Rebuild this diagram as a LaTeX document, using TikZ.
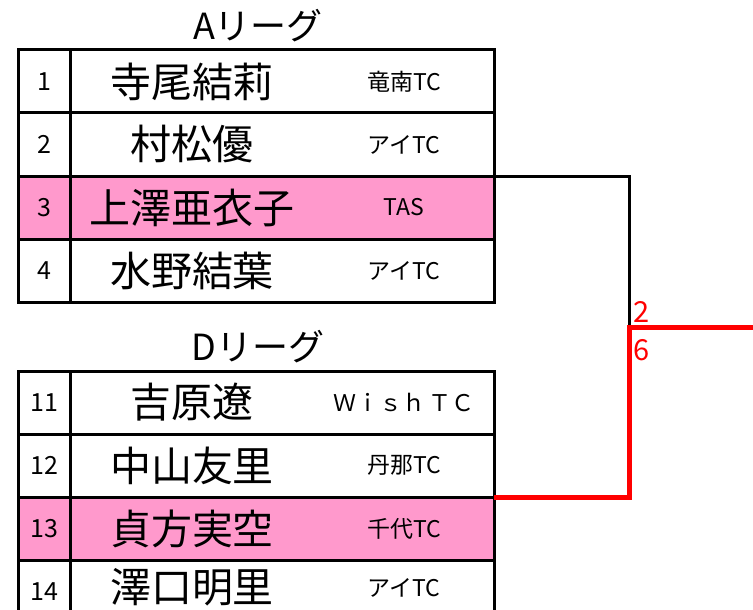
\documentclass[tikz,border=0pt]{standalone}
\usepackage{fontspec}
\setmainfont{Noto Sans CJK JP}
\usetikzlibrary{positioning}
\definecolor{winpink}{HTML}{FF99CC}

\begin{document}
\begin{tikzpicture}[x=1pt, y=-1pt,
        numcell/.style={draw, line width=3pt, outer sep=0pt, minimum width=52pt, minimum height=63pt, inner sep=0pt, anchor=north west, font=\fontsize{25}{25}\selectfont},
        namecell/.style={draw, line width=3pt, outer sep=0pt, minimum width=424pt, minimum height=63pt, inner sep=0pt, anchor=west},
        player/.style={font=\fontsize{41}{41}\selectfont, inner sep=0pt},
        club/.style={font=\fontsize{23}{23}\selectfont, inner sep=0pt},
        league/.style={font=\fontsize{36}{36}\selectfont, inner sep=0pt},
        score/.style={text=red, font=\fontsize{29}{29}\selectfont, inner sep=0pt}
      ]
      \useasboundingbox (0,0) rectangle (753,610);
      \clip (0,0) rectangle (753,610);

      % A league
      \node[league] (titleA) at (258,26) {Aリーグ};
      \node[numcell] (n1) at (18,50) {1};
      \node[namecell, right=0pt of n1] (r1) {};
      \node[numcell, below=0pt of n1] (n2) {2};
      \node[namecell, right=0pt of n2] (r2) {};
      \node[numcell, below=0pt of n2, fill=winpink] (n3) {3};
      \node[namecell, right=0pt of n3, fill=winpink] (r3) {};
      \node[numcell, below=0pt of n3] (n4) {4};
      \node[namecell, right=0pt of n4] (r4) {};

      \node[player] at ([xshift=122pt]r1.west) {寺尾結莉};
      \node[player] at ([xshift=122pt]r2.west) {村松優};
      \node[player] at ([xshift=122pt]r3.west) {上澤亜衣子};
      \node[player] at ([xshift=122pt]r4.west) {水野結葉};
      \node[club] at ([xshift=-90pt]r1.east) {竜南TC};
      \node[club] at ([xshift=-90pt]r2.east) {アイTC};
      \node[club] at ([xshift=-90pt]r3.east) {TAS};
      \node[club] at ([xshift=-90pt]r4.east) {アイTC};

      % D league
      \node[league] (titleD) at (258,347) {Dリーグ};
      \node[numcell] (n11) at (18,371) {11};
      \node[namecell, right=0pt of n11] (r11) {};
      \node[numcell, below=0pt of n11] (n12) {12};
      \node[namecell, right=0pt of n12] (r12) {};
      \node[numcell, below=0pt of n12, fill=winpink] (n13) {13};
      \node[namecell, right=0pt of n13, fill=winpink] (r13) {};
      \node[numcell, below=0pt of n13] (n14) {14};
      \node[namecell, right=0pt of n14] (r14) {};

      \node[player] at ([xshift=122pt]r11.west) {吉原遼};
      \node[player] at ([xshift=122pt]r12.west) {中山友里};
      \node[player] at ([xshift=122pt]r13.west) {貞方実空};
      \node[player] at ([xshift=122pt, yshift=4pt]r14.west) {澤口明里};
      \node[club] at ([xshift=-90pt]r11.east) {Ｗｉｓｈ\,ＴＣ};
      \node[club] at ([xshift=-90pt]r12.east) {丹那TC};
      \node[club] at ([xshift=-90pt]r13.east) {千代TC};
      \node[club] at ([xshift=-90pt, yshift=4pt]r14.east) {アイTC};

      % final
      \coordinate (win) at (629,327);
      \coordinate (out) at (753,327);
      \draw[line width=3pt] (r3.north east) -| (win);
      \draw[red, line width=5pt] (r13.north east) -| (win) -- (out);
      \node[score] (s1) at (642,312) {2};
      \node[score] (s2) at (642,350) {6};
\end{tikzpicture}
\end{document}
